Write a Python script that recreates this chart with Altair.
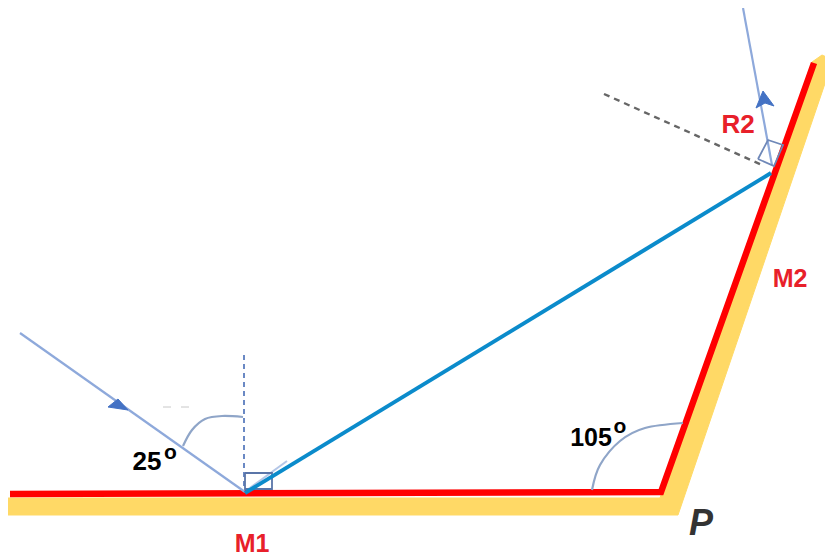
import altair as alt
import pandas as pd

# geometry (picture pixel units)
yellow_x = [8, 660, 812, 822, 833, 678, 8, 8]
yellow_y = [498, 498, 62, 55, 60, 515, 515, 498]
red_x = [10, 661, 814]
red_y = [494, 492, 63]
ray_x = [245, 771]
ray_y = [493, 173]
inc_x = [20, 245]
inc_y = [333, 492]
refl_x = [772, 743]
refl_y = [165, 8]
ghost_x = [247, 287]
ghost_y = [490, 461]
normal1_x = [244, 244]
normal1_y = [355, 490]
faint_x = [163, 195]
faint_y = [407, 407]
normal2_x = [604, 762]
normal2_y = [94, 165]
sq1_x = [245, 272, 272, 245, 245]
sq1_y = [473, 473, 489, 489, 473]
sq2_x = [758, 768, 783, 774, 758]
sq2_y = [159, 140, 145, 166, 159]
arc1_x = [183, 192, 205, 222, 243]
arc1_y = [446, 430, 419, 416, 417]
arc2_x = [592, 600, 620, 645, 683]
arc2_y = [490, 465, 441, 428, 423]
head1_x = [128, 108, 118, 128]
head1_y = [410, 407, 399, 410]
head2_x = [763, 756, 765, 774, 763]
head2_y = [91, 108, 103, 106, 91]

X = alt.Scale(domain=[8, 825], range=[0, 817])
Y = alt.Scale(domain=[8, 558], range=[0, 550])


def path(xs, ys, **mark):
    df = pd.DataFrame({"x": xs, "y": ys, "i": range(len(xs))})
    return alt.Chart(df).mark_line(**mark).encode(
        x=alt.X("x:Q", scale=X, axis=None),
        y=alt.Y("y:Q", scale=Y, axis=None),
        order="i:Q",
    )


def label(txt, px, py, size, color, **mark):
    df = pd.DataFrame({"x": [px], "y": [py], "t": [txt]})
    return alt.Chart(df).mark_text(
        font="Liberation Sans", fontSize=size, color=color, **mark
    ).encode(
        x=alt.X("x:Q", scale=X, axis=None),
        y=alt.Y("y:Q", scale=Y, axis=None),
        text="t:N",
    )


layers = [
    path(yellow_x, yellow_y, color="#FFD966", fill="#FFD966", strokeWidth=1),
    path(red_x, red_y, color="#FF0000", strokeWidth=6.5, strokeJoin="miter"),
    path(inc_x, inc_y, color="#8EA9DB", strokeWidth=2.2),
    path(refl_x, refl_y, color="#8EA9DB", strokeWidth=2.2),
    path(ghost_x, ghost_y, color="#B4C6E7", strokeWidth=2),
    path(normal1_x, normal1_y, color="#5B7DBE", strokeWidth=1.8, strokeDash=[5, 4]),
    path(faint_x, faint_y, color="#C8C8C8", strokeWidth=1, strokeDash=[8, 10]),
    path(normal2_x, normal2_y, color="#666666", strokeWidth=2.4, strokeDash=[6, 5]),
    path(sq1_x, sq1_y, color="#5A75A8", strokeWidth=1.8),
    path(sq2_x, sq2_y, color="#6F88B8", strokeWidth=1.8),
    path(arc1_x, arc1_y, color="#8FA5C8", strokeWidth=2.2, interpolate="cardinal"),
    path(arc2_x, arc2_y, color="#8FA5C8", strokeWidth=2.2, interpolate="cardinal"),
    path(head1_x, head1_y, color="#4472C4", fill="#4472C4", strokeWidth=1),
    path(head2_x, head2_y, color="#4472C4", fill="#4472C4", strokeWidth=1),
    path(ray_x, ray_y, color="#0B8BCB", strokeWidth=4),
    label("25", 147, 462, 26, "#000000", fontWeight="bold"),
    label("o", 170.5, 453, 21, "#000000", fontWeight="bold"),
    label("105", 591, 438, 25, "#000000", fontWeight="bold"),
    label("o", 620, 427, 21, "#000000", fontWeight="bold"),
    label("R2", 738, 125, 26, "#E8202A", fontWeight="bold"),
    label("M2", 790, 279, 25, "#E8202A", fontWeight="bold"),
    label("M1", 252, 544, 25, "#E8202A", fontWeight="bold"),
    label("P", 701, 524, 36, "#333333", fontStyle="italic", fontWeight="bold"),
]

chart = alt.layer(*layers).properties(
    width=817, height=550, padding=0, background="white",
    autosize=alt.AutoSizeParams(type="none"),
).configure_view(stroke=None)

chart.save("out.html", embed_options={"renderer": "svg", "actions": False})
